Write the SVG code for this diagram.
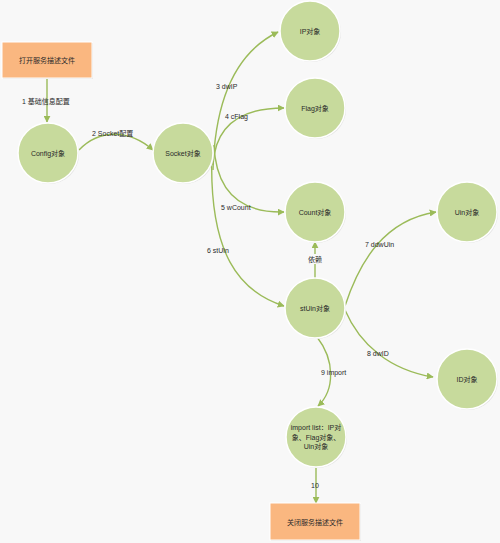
<svg xmlns="http://www.w3.org/2000/svg" width="500" height="543" viewBox="0 0 500 543">
<style>
.bg{fill:#f8f8f8}
.node circle.c{fill:#c7da9c;stroke:#ffffff;stroke-width:1.5}
.node circle.s{fill:#e2e2e2}
.node rect.r{fill:#fab780;stroke:#ffffff;stroke-width:1}
.node rect.s{fill:#e2e2e2}
text{font-family:"Liberation Sans","Noto Sans CJK SC",sans-serif;font-size:7px;fill:#2a2a2a;text-anchor:middle;dominant-baseline:central}
.lbl{text-anchor:start}
.edge{fill:none;stroke:#9bbb59;stroke-width:1.4;marker-end:url(#arr)}
</style>
<defs>
<marker id="arr" viewBox="0 0 10 10" refX="9" refY="5" markerWidth="7" markerHeight="7" markerUnits="userSpaceOnUse" orient="auto">
<path d="M0,0 L10,5 L0,10 z" fill="#9bbb59"/>
</marker>
</defs>
<rect class="bg" x="0" y="0" width="500" height="543"/>

<g id="connectors">
<path class="edge" d="M47,78 L47,122"/>
<path class="edge" d="M79,150 C100,128 130,130 153,150"/>
<path class="edge" d="M213,170 Q216,62 278,32"/>
<path class="edge" d="M213,165 C215,128 238,108 284,108"/>
<path class="edge" d="M214,145 C216,192 240,213 284,212"/>
<path class="edge" d="M212,150 C208,255 240,292 284,306"/>
<path class="edge" d="M315,278 L315,242"/>
<path class="edge" d="M345,306 C360,260 385,220 436,212"/>
<path class="edge" d="M345,310 C360,345 390,370 433,377"/>
<path class="edge" d="M317,337 C335,360 335,390 318,406"/>
<path class="edge" d="M316,467 L316,503"/>
</g>

<g id="labels">
<text class="lbl" x="22" y="101">1  基础信息配置</text>
<text class="lbl" x="92" y="133">2 Socket配置</text>
<text class="lbl" x="216" y="86">3 dwIP</text>
<text class="lbl" x="225" y="116">4 cFlag</text>
<text class="lbl" x="221" y="207">5 wCount</text>
<text class="lbl" x="207" y="250">6 stUin</text>
<rect x="306" y="254" width="18" height="10" fill="#f8f8f8"/>
<text x="315" y="259">依赖</text>
<text class="lbl" x="365" y="244">7 ddwUin</text>
<text class="lbl" x="367" y="353">8 dwID</text>
<text class="lbl" x="321" y="372">9 import</text>
<text class="lbl" x="311" y="485">10</text>
</g>

<g id="n_open" class="node">
<rect class="s" x="3" y="43" width="90" height="36"/>
<rect class="r" x="2" y="42" width="90" height="36"/>
<text x="47" y="60">打开服务描述文件</text>
</g>
<g id="n_config" class="node">
<circle class="s" cx="49" cy="154" r="30"/>
<circle class="c" cx="48" cy="153" r="30"/>
<text x="48" y="153">Config对象</text>
</g>
<g id="n_socket" class="node">
<circle class="s" cx="184" cy="154" r="30"/>
<circle class="c" cx="183" cy="153" r="30"/>
<text x="183" y="153">Socket对象</text>
</g>
<g id="n_ip" class="node">
<circle class="s" cx="311" cy="32" r="30"/>
<circle class="c" cx="310" cy="31" r="30"/>
<text x="310" y="31">IP对象</text>
</g>
<g id="n_flag" class="node">
<circle class="s" cx="316" cy="109" r="30"/>
<circle class="c" cx="315" cy="108" r="30"/>
<text x="315" y="108">Flag对象</text>
</g>
<g id="n_count" class="node">
<circle class="s" cx="316" cy="213" r="30"/>
<circle class="c" cx="315" cy="212" r="30"/>
<text x="315" y="212">Count对象</text>
</g>
<g id="n_stuin" class="node">
<circle class="s" cx="316" cy="309" r="30"/>
<circle class="c" cx="315" cy="308" r="30"/>
<text x="315" y="308">stUin对象</text>
</g>
<g id="n_uin" class="node">
<circle class="s" cx="468" cy="213" r="30"/>
<circle class="c" cx="467" cy="212" r="30"/>
<text x="467" y="212">Uin对象</text>
</g>
<g id="n_id" class="node">
<circle class="s" cx="468" cy="380" r="30"/>
<circle class="c" cx="467" cy="379" r="30"/>
<text x="467" y="379">ID对象</text>
</g>
<g id="n_import" class="node">
<circle class="s" cx="317" cy="438" r="30"/>
<circle class="c" cx="316" cy="437" r="30"/>
<text x="316" y="427">import  list：IP对</text>
<text x="316" y="437">象、Flag对象、</text>
<text x="316" y="446">Uin对象</text>
</g>
<g id="n_close" class="node">
<rect class="s" x="271" y="504" width="90" height="37"/>
<rect class="r" x="270" y="503" width="90" height="37"/>
<text x="315" y="522">关闭服务描述文件</text>
</g>
</svg>
